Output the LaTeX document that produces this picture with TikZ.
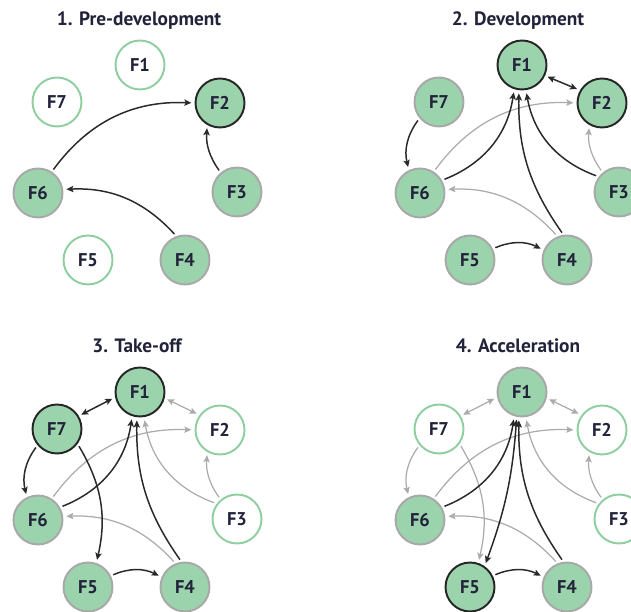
\documentclass[tikz,border=0pt]{standalone}
\usepackage{fontspec}
\setmainfont{PT Sans}
\usetikzlibrary{arrows.meta}
\definecolor{nodegreen}{HTML}{9BD3AC}
\definecolor{bordergray}{HTML}{A8A8A8}
\definecolor{borderdark}{HTML}{262626}
\definecolor{emptygreen}{HTML}{8ECE9F}
\definecolor{edgedark}{HTML}{2A2A2A}
\definecolor{edgegray}{HTML}{ABABAB}
\definecolor{txt}{HTML}{22223A}
\tikzset{
  fnode/.style={circle, minimum size=0.98cm, inner sep=0pt, line width=1.1pt,
    font=\bfseries\fontsize{10.5}{12}\selectfont, text=txt},
  nfull/.style={fnode, fill=nodegreen, draw=bordergray},
  nkey/.style={fnode, fill=nodegreen, draw=borderdark},
  nempty/.style={fnode, fill=white, draw=emptygreen},
  tip/.tip={Stealth[length=4pt,width=3.6pt,inset=0.8pt]},
  edark/.style={draw=edgedark, line width=0.85pt, -tip, shorten <=1.5pt, shorten >=1.8pt},
  elight/.style={draw=edgegray, line width=0.7pt, -tip, shorten <=1.5pt, shorten >=1.8pt},
  edarkboth/.style={edark, tip-tip},
  elightboth/.style={elight, tip-tip},
  ptitle/.style={anchor=base, font=\bfseries\fontsize{11}{13}\selectfont, text=txt},
}
\newcommand\mknodes[8]{%
  \node[#2] (#1F1) at (140,546) {F1};
  \node[#3] (#1F2) at (220,508) {F2};
  \node[#4] (#1F3) at (237,419) {F3};
  \node[#5] (#1F4) at (185,351) {F4};
  \node[#6] (#1F5) at (88,351) {F5};
  \node[#7] (#1F6) at (38,418) {F6};
  \node[#8] (#1F7) at (57,509) {F7};
}
\begin{document}
\begin{tikzpicture}[x=0.02cm,y=0.02cm]
\useasboundingbox (0,0) rectangle (631,611);
\clip (0,0) rectangle (631,611);
% ---------- Panel 1
\begin{scope}
  \node[ptitle] (t1) at (139,585) {1. Pre-development};
  \mknodes{a}{nempty}{nkey}{nfull}{nfull}{nempty}{nfull}{nempty}
  \draw[edark] (aF6.57) to[bend left=28] (aF2.180);
  \draw[edark] (aF3.130) to[bend left=20] (aF2.240);
  \draw[edark] (aF4.110) to[bend right=25] (aF6.8);
\end{scope}
% ---------- Panel 2
\begin{scope}[shift={(382,0)}]
  \node[ptitle] (t2) at (136,585) {2. Development};
  \mknodes{b}{nkey}{nkey}{nfull}{nfull}{nfull}{nfull}{nfull}
  \draw[elight] (bF6.57) to[bend left=28] (bF2.180);
  \draw[elight] (bF3.130) to[bend left=20] (bF2.240);
  \draw[elight] (bF4.112) to[bend right=25] (bF6.8);
  \draw[edarkboth] (bF1.-25) -- (bF2.150);
  \draw[edark] (bF7.220) to[bend right=25] (bF6.116);
  \draw[edark] (bF6.30) to[bend right=30] (bF1.252);
  \draw[edark] (bF4.98) to[bend left=18] (bF1.263);
  \draw[edark] (bF3.143) to[bend left=30] (bF1.279);
  \draw[edark] (bF5.26) to[bend left=25] (bF4.157);
\end{scope}
% ---------- Panel 3
\begin{scope}[shift={(0,-327)}]
  \node[ptitle] (t3) at (137,585) {3. Take-off};
  \mknodes{c}{nkey}{nempty}{nempty}{nfull}{nfull}{nfull}{nkey}
  \draw[elightboth] (cF1.-14) -- (cF2.144);
  \draw[elight] (cF6.57) to[bend left=28] (cF2.180);
  \draw[elight] (cF3.130) to[bend left=20] (cF2.240);
  \draw[elight] (cF4.112) to[bend right=25] (cF6.8);
  \draw[elight] (cF3.143) to[bend left=30] (cF1.279);
  \draw[edarkboth] (cF7.31) -- (cF1.192);
  \draw[edark] (cF7.220) to[bend right=25] (cF6.116);
  \draw[edark] (cF7.-36) to[bend left=22] (cF5.71);
  \draw[edark] (cF6.30) to[bend right=30] (cF1.252);
  \draw[edark] (cF4.98) to[bend left=18] (cF1.263);
  \draw[edark] (cF5.26) to[bend left=25] (cF4.157);
\end{scope}
% ---------- Panel 4
\begin{scope}[shift={(382,-327)}]
  \node[ptitle] (t4) at (136,585) {4. Acceleration};
  \mknodes{d}{nfull}{nempty}{nempty}{nfull}{nkey}{nfull}{nempty}
  \draw[elightboth] (dF1.-14) -- (dF2.144);
  \draw[elightboth] (dF7.31) -- (dF1.192);
  \draw[elight] (dF6.57) to[bend left=28] (dF2.180);
  \draw[elight] (dF3.130) to[bend left=20] (dF2.240);
  \draw[elight] (dF4.112) to[bend right=25] (dF6.8);
  \draw[elight] (dF3.143) to[bend left=30] (dF1.279);
  \draw[elight] (dF7.220) to[bend right=25] (dF6.116);
  \draw[elight] (dF7.-36) to[bend left=22] (dF5.71);
  \draw[edark] (dF6.30) to[bend right=30] (dF1.252);
  \draw[edarkboth] (dF1.258) to[bend left=8] (dF5.55);
  \draw[edark] (dF4.98) to[bend left=18] (dF1.263);
  \draw[edark] (dF5.26) to[bend left=25] (dF4.157);
\end{scope}
\end{tikzpicture}
\end{document}
